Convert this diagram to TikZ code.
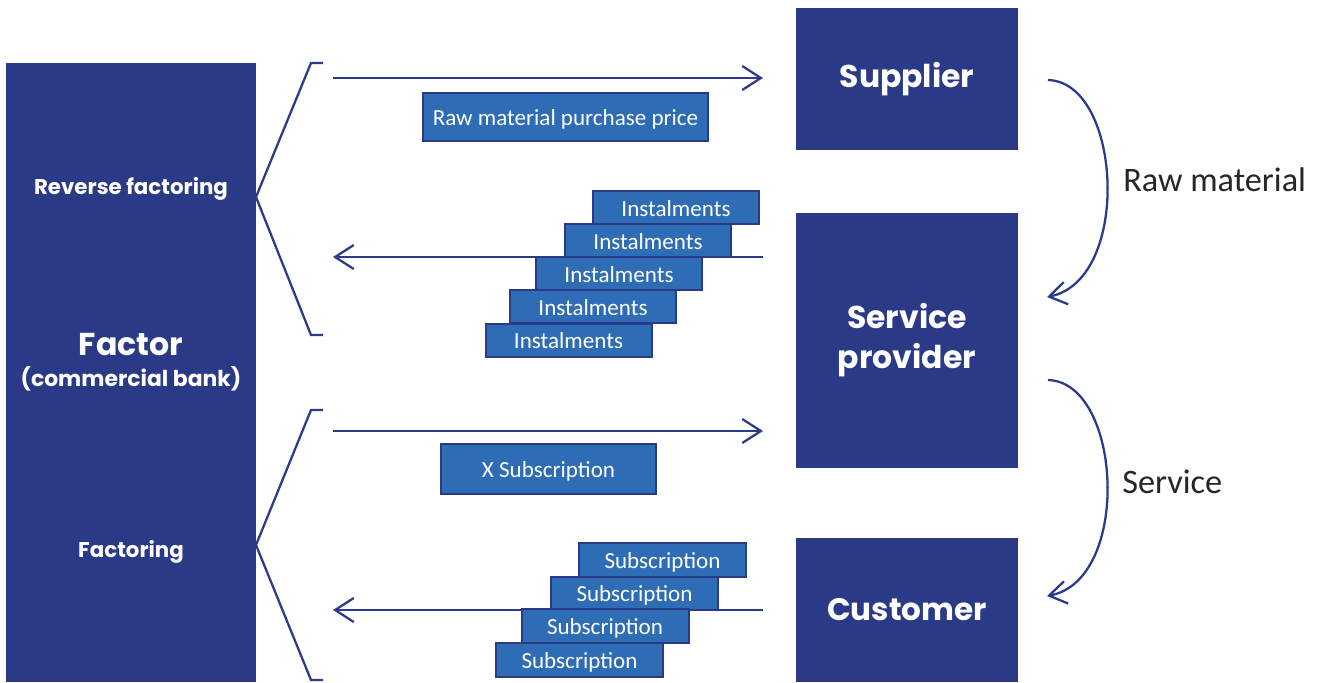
\documentclass[tikz,border=0pt]{standalone}
\usepackage{fontspec}
\setmainfont{Carlito}
\newfontfamily\gothic{Poppins}
\usetikzlibrary{arrows.meta}
\definecolor{navy}{HTML}{2B3A86}
\definecolor{midblue}{HTML}{2E6DB5}
\definecolor{linecol}{HTML}{2B3A8A}
\newcommand\pxu[1]{#1*0.75pt}
\tikzset{
  bigbox/.style={fill=navy, draw=none, inner sep=0pt, outer sep=0pt, text=white, align=center, font=\gothic\bfseries},
  smallbox/.style={fill=midblue, draw=navy, line width=1.5pt, inner sep=0pt, outer sep=0pt, text=white, text height=12.8pt, text depth=0pt, font=\fontsize{17.3}{19}\selectfont},
  flow/.style={draw=linecol, line width=1.7pt, -{Straight Barb[length=14pt,width=18pt,line width=1.7pt]}},
  brack/.style={draw=linecol, line width=1.7pt},
  curvearrow/.style={draw=linecol, line width=1.7pt, -{Straight Barb[length=13pt,width=17pt,line width=1.7pt]}},
  sidelabel/.style={anchor=west, inner sep=0pt, text=black!85, font=\fontsize{25.7}{28}\selectfont},
  leftlabel/.style={text=white, font=\gothic\bfseries\fontsize{16}{18}\selectfont}
}
\begin{document}
\begin{tikzpicture}[x=0.75pt,y=-0.75pt]
\useasboundingbox (0,0) rectangle (1320,682);
% big boxes
\node[bigbox, minimum width=\pxu{250}, minimum height=\pxu{619}] (factor) at (131,372.5) {};
\node[leftlabel] (rev) at (131,188.5) {Reverse factoring};
\node[leftlabel] (fac) at (131,551.5) {Factoring};
\node[text=white, align=center, font=\gothic\bfseries\fontsize{16.4}{23.5}\selectfont] (factorlbl) at (131,362) {{\fontsize{23.7}{23.5}\selectfont Factor}\\(commercial bank)};
\node[bigbox, minimum width=\pxu{222}, minimum height=\pxu{142}, font=\gothic\bfseries\fontsize{23.6}{30}\selectfont] (supplier) at (907,79) {Supplier};
\node[bigbox, minimum width=\pxu{222}, minimum height=\pxu{255}, font=\gothic\bfseries\fontsize{23.6}{30}\selectfont] (provider) at (907,340) {Service\\provider};
\node[bigbox, minimum width=\pxu{222}, minimum height=\pxu{144}, font=\gothic\bfseries\fontsize{23.3}{30}\selectfont] (customer) at (907,610) {\raisebox{-1.5pt}{Customer}};
% brackets
\coordinate (b1t) at (323,63); \coordinate (b1u) at (311,63);
\coordinate (b1m) at (256,197);
\coordinate (b1l) at (311,335); \coordinate (b1b) at (323,335);
\draw[brack] (b1t) -- (b1u) -- (b1m) -- (b1l) -- (b1b);
\coordinate (b2t) at (323,410); \coordinate (b2u) at (311,410);
\coordinate (b2m) at (256,545);
\coordinate (b2l) at (311,680); \coordinate (b2b) at (323,680);
\draw[brack] (b2t) -- (b2u) -- (b2m) -- (b2l) -- (b2b);
% flow arrows
\coordinate (f1a) at (333,78); \coordinate (f1b) at (763,78);
\coordinate (f2a) at (763,257); \coordinate (f2b) at (333,257);
\coordinate (f3a) at (333,431); \coordinate (f3b) at (763,431);
\coordinate (f4a) at (763,610); \coordinate (f4b) at (333,610);
\draw[flow] (f1a) -- (f1b);
\draw[flow] (f2a) -- (f2b);
\draw[flow] (f3a) -- (f3b);
\draw[flow] (f4a) -- (f4b);
% small boxes
\node[smallbox, minimum width=\pxu{285}, minimum height=\pxu{48}] (price) at (565.5,117) {Raw material purchase price};
\node[smallbox, minimum width=\pxu{215}, minimum height=\pxu{50}] (xsub) at (548.5,469) {X Subscription};
\node[smallbox, minimum width=\pxu{166}, minimum height=\pxu{33}] (i1) at (676,207.5) {Instalments};
\node[smallbox, minimum width=\pxu{166}, minimum height=\pxu{33}] (i2) at (648,240.5) {Instalments};
\node[smallbox, minimum width=\pxu{166}, minimum height=\pxu{33}] (i3) at (619,273.5) {Instalments};
\node[smallbox, minimum width=\pxu{166}, minimum height=\pxu{33}] (i4) at (593,306.5) {Instalments};
\node[smallbox, minimum width=\pxu{166}, minimum height=\pxu{33}] (i5) at (568.5,340) {Instalments};
\node[smallbox, minimum width=\pxu{167}, minimum height=\pxu{34}] (s1) at (662.5,560) {Subscription};
\node[smallbox, minimum width=\pxu{167}, minimum height=\pxu{33}] (s2) at (634.5,593) {Subscription};
\node[smallbox, minimum width=\pxu{167}, minimum height=\pxu{34}] (s3) at (605,626) {Subscription};
\node[smallbox, minimum width=\pxu{167}, minimum height=\pxu{34}] (s4) at (579.5,660) {Subscription};
% curved arrows
\coordinate (c1a) at (1048,80); \coordinate (c1b) at (1047,297);
\coordinate (c2a) at (1048,380); \coordinate (c2b) at (1047,596);
\draw[curvearrow] (c1a) .. controls (1122,82) and (1132,280) .. (c1b);
\draw[curvearrow] (c2a) .. controls (1122,382) and (1132,580) .. (c2b);
\node[sidelabel] (rawlbl) at (1123,180) {Raw material};
\node[sidelabel] (servlbl) at (1122,482) {Service};
\end{tikzpicture}
\end{document}
